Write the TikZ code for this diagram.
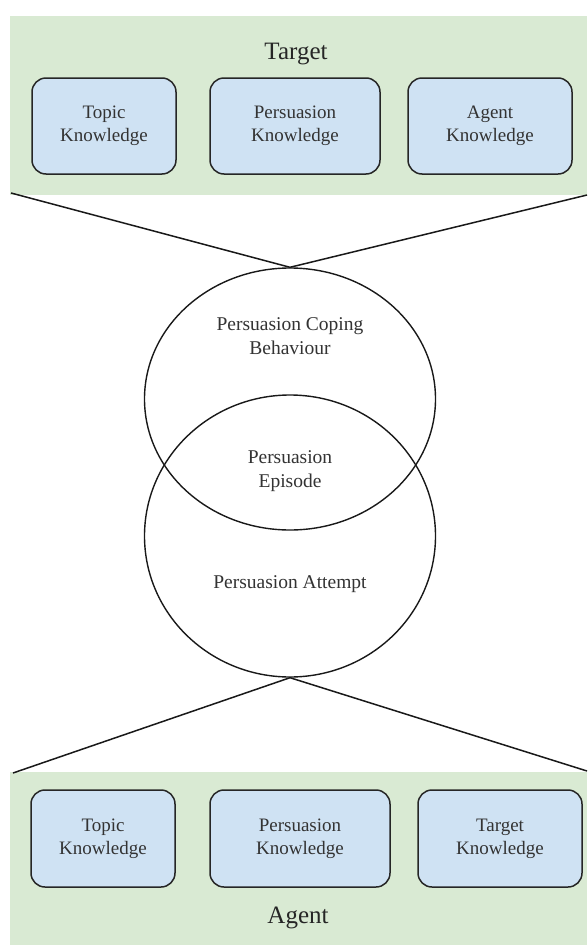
\documentclass[tikz,border=0pt]{standalone}
\usepackage{fontspec}
\setmainfont{Liberation Serif}
\usetikzlibrary{shapes.geometric}
\definecolor{bandgreen}{HTML}{D9EAD3}
\definecolor{boxblue}{HTML}{CFE2F3}
\definecolor{txt}{HTML}{333333}
\begin{document}
\begin{tikzpicture}[x=1pt,y=-1pt,
  band/.style={fill=bandgreen,draw=none,inner sep=0pt},
  kbox/.style={draw=black!85,fill=boxblue,rounded corners=14pt,line width=1.5pt,align=center,text=txt,font=\fontsize{19}{23}\selectfont,inner sep=0pt},
  ring/.style={draw=black!90,ellipse,line width=1.4pt,inner sep=0pt,minimum width=291pt},
  ringlabel/.style={align=center,text=txt,font=\fontsize{19.5}{24}\selectfont},
  bandtitle/.style={font=\fontsize{25}{30}\selectfont,text=black!85},
  link/.style={line width=1.5pt,draw=black!90}]
\useasboundingbox (0,0) rectangle (587,945);
\fill[white] (0,0) rectangle (587,945);
% bands
\node[band,minimum width=577pt,minimum height=179pt] (targetband) at (298.5,105.5) {};
\node[band,minimum width=577pt,minimum height=173pt] (agentband) at (298.5,858.5) {};
% titles
\node[bandtitle] (targettitle) at (296,54) {Target};
\node[bandtitle] (agenttitle) at (298,918) {Agent};
% target boxes
\node[kbox,minimum width=144pt,minimum height=96pt] (ttopic) at (104,126) {Topic\\Knowledge};
\node[kbox,minimum width=170pt,minimum height=96pt] (tpers) at (295,126) {Persuasion\\Knowledge};
\node[kbox,minimum width=164pt,minimum height=96pt] (tagent) at (490,126) {Agent\\Knowledge};
% agent boxes
\node[kbox,minimum width=144pt,minimum height=97pt] (atopic) at (103,838.5) {Topic\\Knowledge};
\node[kbox,minimum width=180pt,minimum height=97pt] (apers) at (300,838.5) {Persuasion\\Knowledge};
\node[kbox,minimum width=164pt,minimum height=97pt] (atarget) at (500,838.5) {Target\\Knowledge};
% ellipses
\node[ring,minimum height=262pt] (upper) at (290,399) {};
\node[ring,minimum height=282pt] (lower) at (290,536) {};
\node[ringlabel] (coping) at (290,336) {Persuasion Coping\\Behaviour};
\node[ringlabel] (episode) at (290,471) {Persuasion\\Episode};
\node[ringlabel] (attempt) at (290,584) {Persuasion Attempt};
% connectors
\coordinate (tl) at (11,193);
\coordinate (tr) at (587,195);
\coordinate (bl) at (13,773);
\coordinate (br) at (587,771);
\draw[link] (tl) -- (upper.north) -- (tr);
\draw[link] (bl) -- (lower.south) -- (br);
\end{tikzpicture}
\end{document}
